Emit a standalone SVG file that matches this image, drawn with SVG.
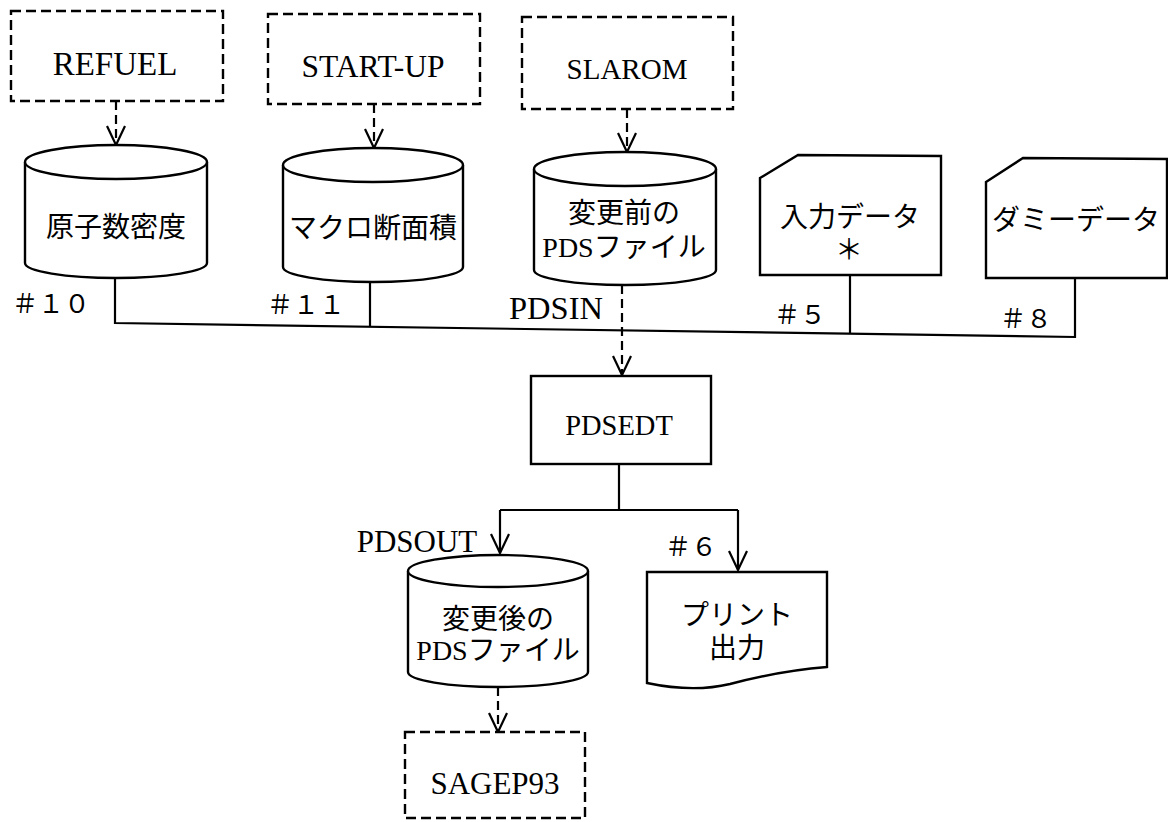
<svg xmlns="http://www.w3.org/2000/svg" width="1168" height="822" viewBox="0 0 1168 822">
<style>
.bg{fill:#fff}
.dash{fill:#fff;stroke:#000;stroke-width:2.4;stroke-dasharray:10 5}
.solid{fill:#fff;stroke:#000;stroke-width:2.4}
.ln{fill:none;stroke:#000;stroke-width:2.2}
.dln{fill:none;stroke:#000;stroke-width:2.2;stroke-dasharray:9 5}
.t{font-family:"Liberation Serif","Noto Sans CJK JP",serif;font-size:30px;fill:#000;text-anchor:middle}
.j{font-family:"Liberation Serif","Noto Sans CJK JP",serif;font-size:28px;fill:#000;text-anchor:middle}
.n{font-family:"Noto Sans CJK JP",sans-serif;font-size:26px;fill:#000}
</style>
<defs>
<marker id="v" viewBox="-20 -11 22 22" refX="0" refY="0" markerWidth="22" markerHeight="22" markerUnits="userSpaceOnUse" orient="auto">
<path d="M-19,-9 L0,0 L-19,9" fill="none" stroke="#000" stroke-width="2.2"/>
</marker>
</defs>
<rect class="bg" x="0" y="0" width="1168" height="822"/>

<g id="connectors">
<path class="dln" d="M116,101 L116,145" marker-end="url(#v)"/>
<path class="dln" d="M374,104 L374,148" marker-end="url(#v)"/>
<path class="dln" d="M627,109 L627,152" marker-end="url(#v)"/>
<path class="ln" d="M115,278 L115,323 L1075,337 L1075,278"/>
<path class="ln" d="M370,282 L370,326.7"/>
<path class="ln" d="M850,275 L850,333.7"/>
<path class="dln" d="M622,285 L622,375" marker-end="url(#v)"/>
<path class="ln" d="M619,464 L619,510 M500,510 L738,510"/>
<path class="ln" d="M500,510 L500,553" marker-end="url(#v)"/>
<path class="ln" d="M738,510 L738,570" marker-end="url(#v)"/>
<path class="dln" d="M498,687 L498,732" marker-end="url(#v)"/>
</g>

<g id="labels">
<text class="n" x="12" y="313">＃１０</text>
<text class="n" x="267" y="314">＃１１</text>
<text class="t" x="556" y="319" style="font-size:32.5px">PDSIN</text>
<text class="n" x="774" y="324">＃５</text>
<text class="n" x="1000" y="328">＃８</text>
<text class="t" x="417" y="552" style="font-size:31px">PDSOUT</text>
<text class="n" x="665" y="556">＃６</text>
</g>

<g id="refuel">
<rect class="dash" x="11" y="11" width="212" height="90"/>
<text class="t" x="115" y="75" style="font-size:33px">REFUEL</text>
</g>
<g id="startup">
<rect class="dash" x="268" y="14" width="212" height="90"/>
<text class="t" x="373" y="77" style="font-size:31.5px">START-UP</text>
</g>
<g id="slarom">
<rect class="dash" x="522" y="17" width="211" height="92"/>
<text class="t" x="627" y="79" style="font-size:29px">SLAROM</text>
</g>

<g id="cyl-genshi">
<path class="solid" d="M25,162 L25,263 A91,15 0 0 0 207,263 L207,162"/>
<ellipse class="solid" cx="116" cy="162" rx="91" ry="17"/>
<text class="j" x="116" y="237">原子数密度</text>
</g>
<g id="cyl-macro">
<path class="solid" d="M283,165 L283,267 A90,15 0 0 0 463,267 L463,165"/>
<ellipse class="solid" cx="373" cy="165" rx="90" ry="17"/>
<text class="j" x="373" y="238">マクロ断面積</text>
</g>
<g id="cyl-pds-before">
<path class="solid" d="M534,169 L534,270 A91,15 0 0 0 716,270 L716,169"/>
<ellipse class="solid" cx="625" cy="169" rx="91" ry="17"/>
<text class="j" x="624" y="223">変更前の</text>
<text class="j" x="624" y="257">PDSファイル</text>
</g>

<g id="input-data">
<path class="solid" d="M760,178 L798,155 L941,156 L941,275 L760,275 Z"/>
<text class="j" x="850" y="227">入力データ</text>
<text class="j" x="849" y="260">＊</text>
</g>
<g id="dummy-data">
<path class="solid" d="M986,182 L1023,158 L1167,159 L1167,278 L986,278 Z"/>
<text class="j" x="1076" y="230">ダミーデータ</text>
</g>

<g id="pdsedt">
<rect class="solid" x="531" y="376" width="180" height="88"/>
<text class="t" x="619" y="435" style="font-size:28.5px">PDSEDT</text>
</g>

<g id="cyl-pds-after">
<path class="solid" d="M408,571 L408,672 A90,15 0 0 0 588,672 L588,571"/>
<ellipse class="solid" cx="498" cy="571" rx="90" ry="16"/>
<text class="j" x="498" y="629">変更後の</text>
<text class="j" x="498" y="660">PDSファイル</text>
</g>

<g id="print-output">
<path class="solid" d="M647,572 L827,572 L827,667 C790,670 760,676 730,684 C705,690 680,690 647,683 Z"/>
<text class="j" x="737" y="625">プリント</text>
<text class="j" x="737" y="658">出力</text>
</g>

<g id="sagep93">
<rect class="dash" x="405" y="732" width="180" height="86"/>
<text class="t" x="495" y="794" style="font-size:31px">SAGEP93</text>
</g>
</svg>
